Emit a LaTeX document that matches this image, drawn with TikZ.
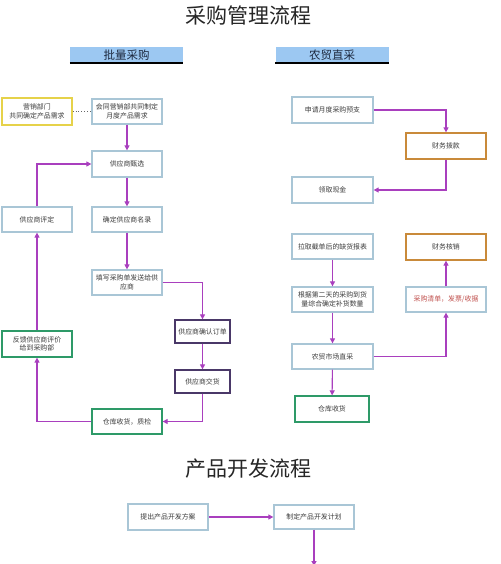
\documentclass[tikz,border=0pt]{standalone}
\usepackage{fontspec}
\newfontfamily\cjk{Noto Sans CJK SC}
\usetikzlibrary{arrows.meta}
\definecolor{boxblue}{HTML}{A9C6D6}
\definecolor{arr}{HTML}{A93FBE}
\definecolor{yel}{HTML}{E6D24A}
\definecolor{grn}{HTML}{2E9A68}
\definecolor{dpur}{HTML}{4A3868}
\definecolor{org}{HTML}{C98A3A}
\definecolor{hdr}{HTML}{9CC8F2}
\definecolor{txt}{HTML}{3C3C3C}
\definecolor{redt}{HTML}{C0504D}
\definecolor{navy}{HTML}{1E2A40}
\tikzset{
  bx/.style={draw=boxblue, line width=1.3pt, fill=white, minimum width=70pt, minimum height=25pt,
    align=center, inner sep=1pt, text=txt, font=\cjk\fontsize{6.9}{8.6}\selectfont},
  flow/.style={draw=arr, line width=1.1pt, -{Triangle[length=5pt,width=5pt]}},
  hdrbox/.style={fill=hdr, minimum width=113pt, minimum height=16pt, inner sep=0pt,
    font=\cjk\fontsize{11.5}{13}\selectfont, text=navy},
  ttl/.style={font=\cjk\fontsize{21}{25}\selectfont, text=black!85}
}
\begin{document}
\begin{tikzpicture}[x=1pt,y=-1pt]
\useasboundingbox[fill=white] (0,0) rectangle (500,564);
% titles
\node[ttl] (t1) at (248,15) {采购管理流程};
\node[ttl] (t2) at (248,469) {产品开发流程};
\node[hdrbox] (h1) at (126.5,55) {批量采购};
\node[hdrbox] (h2) at (332,55) {农贸直采};
\draw[line width=1.6pt] (h1.south west) -- (h1.south east);
\draw[line width=1.6pt] (h2.south west) -- (h2.south east);
% left column
\node[bx, draw=yel, minimum height=27pt] (yel) at (37,111.5) {营销部门\\共同确定产品需求};
\node[bx] (hui) at (127,111.5) {会同营销部共同制定\\月度产品需求};
\node[bx, minimum height=26pt] (zhen) at (127,164) {供应商甄选};
\node[bx] (ping) at (37,219.5) {供应商评定};
\node[bx] (ming) at (127,219.5) {确定供应商名录};
\node[bx] (tian) at (127,282.5) {填写采购单发送给供\\应商};
\node[bx, draw=dpur, minimum width=55pt, minimum height=23pt] (que) at (202.5,331.5) {供应商确认订单};
\node[bx, draw=grn, minimum height=26pt] (fan) at (37,344) {反馈供应商评价\\给到采购部};
\node[bx, draw=dpur, minimum width=55pt, minimum height=23pt] (jiao) at (202.5,381.5) {供应商交货};
\node[bx, draw=grn] (cang) at (127,421.5) {仓库收货，质检};
% right column
\node[bx, minimum width=81pt, minimum height=26pt] (shen) at (332.5,110) {申请月度采购预支};
\node[bx, draw=org, minimum width=80pt, minimum height=26pt] (bo) at (446,146) {财务拨款};
\node[bx, minimum width=81pt, minimum height=26pt] (ling) at (332.5,190) {领取现金};
\node[bx, minimum width=81pt] (la) at (332.5,246.5) {拉取截单后的缺货报表};
\node[bx, draw=org, minimum width=80pt, minimum height=26pt] (he) at (446,247) {财务核销};
\node[bx, minimum width=81pt] (gen) at (332.5,299.5) {根据第二天的采购到货\\量综合确定补货数量};
\node[bx, minimum width=80pt, text=redt] (qing) at (446,299.5) {采购清单，发票/收据};
\node[bx, minimum width=81pt] (zhi) at (332.5,356.5) {农贸市场直采};
\node[bx, draw=grn, minimum width=74pt, minimum height=26pt] (ck) at (332,409) {仓库收货};
% product development
\node[bx, minimum width=80pt, minimum height=26pt] (ti) at (168,517) {提出产品开发方案};
\node[bx, minimum width=80pt, minimum height=24pt] (zd) at (314,517) {制定产品开发计划};
\coordinate (zdend) at (314,566);
% connectors left
\draw[dotted, line width=0.9pt, draw=black!60] (yel) -- (hui);
\draw[flow] (hui) -- (zhen);
\draw[flow] (zhen) -- (ming);
\draw[flow] (ming) -- (tian);
\draw[flow] (tian.east) -| (que.north);
\draw[flow] (que) -- (jiao);
\draw[flow] (jiao.south) |- (cang.east);
\draw[flow] (cang.west) -| (fan.south);
\draw[flow] (fan) -- (ping);
\draw[flow] (ping.north) |- (zhen.west);
% connectors right
\draw[flow] (shen.east) -| (bo.north);
\draw[flow] (bo.south) |- (ling.east);
\draw[flow] (la) -- (gen);
\draw[flow] (gen) -- (zhi);
\draw[flow] (zhi) -- (ck);
\draw[flow] (zhi.east) -| (qing.south);
\draw[flow] (qing) -- (he);
% product connectors
\draw[flow] (ti) -- (zd);
\draw[flow] (zd) -- (zdend);
\end{tikzpicture}
\end{document}
